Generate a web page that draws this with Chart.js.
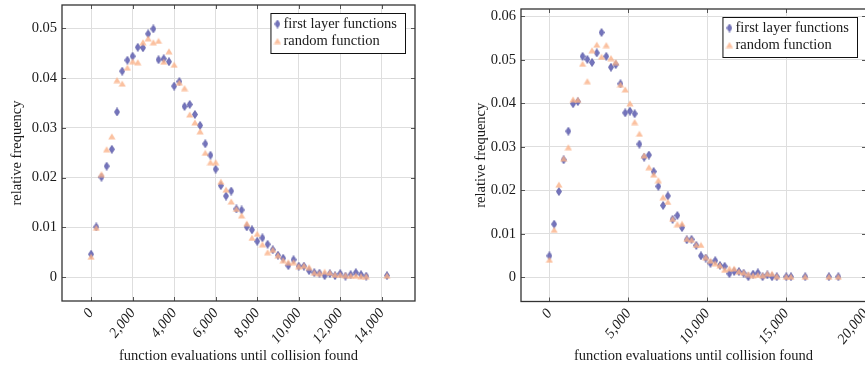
<!DOCTYPE html>
<html>
<head>
<meta charset="utf-8">
<script src="https://cdn.jsdelivr.net/npm/chart.js@4.4.0/dist/chart.umd.min.js"></script>
<style>
  html, body { margin: 0; padding: 0; background: #fff; overflow: hidden; width: 865px; height: 367px; }
  canvas { position: absolute; top: 0; }
</style>
</head>
<body>
<canvas id="left" width="430" height="367" style="left:0px"></canvas>
<canvas id="right" width="412" height="367" style="left:459px"></canvas>
<script>
// left plot: bins of 250 evaluations
const leftBins = [0, 250, 500, 750, 1000, 1250, 1500, 1750, 2000, 2250, 2500, 2750, 3000, 3250, 3500, 3750,
  4000, 4250, 4500, 4750, 5000, 5250, 5500, 5750, 6000, 6250, 6500, 6750, 7000, 7250, 7500, 7750,
  8000, 8250, 8500, 8750, 9000, 9250, 9500, 9750, 10000, 10250, 10500, 10750, 11000, 11250, 11500, 11750,
  12000, 12250, 12500, 12750, 13000, 13250, 14250];
const leftFirstLayer = [0.0046, 0.0101, 0.0201, 0.0223, 0.0257, 0.0332, 0.0414, 0.0436, 0.0444, 0.0462,
  0.0461, 0.0489, 0.0499, 0.0437, 0.0439, 0.0433, 0.0384, 0.0393, 0.0343, 0.0347,
  0.0327, 0.0305, 0.0268, 0.0245, 0.0217, 0.0184, 0.0163, 0.0173, 0.0137, 0.0135,
  0.0101, 0.0095, 0.0072, 0.0079, 0.0066, 0.0055, 0.0044, 0.0038, 0.0023, 0.0035,
  0.0022, 0.0022, 0.0013, 0.0009, 0.0008, 0.0003, 0.0007, 0.0003, 0.0007, 0.0002,
  0.0005, 0.0009, 0.0005, 0.0002, 0.0003];
const leftRandom = [0.0041, 0.0099, 0.0207, 0.0257, 0.0283, 0.0396, 0.0389, 0.0421, 0.0434, 0.0432,
  0.0472, 0.0480, 0.0472, 0.0475, 0.0433, 0.0454, 0.0427, 0.0391, 0.0380, 0.0327,
  0.0311, 0.0293, 0.0250, 0.0231, 0.0231, 0.0192, 0.0176, 0.0152, 0.0137, 0.0124,
  0.0108, 0.0079, 0.0087, 0.0066, 0.0050, 0.0055, 0.0044, 0.0034, 0.0030, 0.0030,
  0.0022, 0.0023, 0.0020, 0.0009, 0.0008, 0.0011, 0.0009, 0.0005, 0.0005, 0.0004,
  0.0003, 0.0003, 0.0002, 0.0002, 0.0003];
const leftXTicks = [0, 2000, 4000, 6000, 8000, 10000, 12000, 14000];
const leftYTicks = [0, 0.01, 0.02, 0.03, 0.04, 0.05];

// right plot: bins of 300 evaluations
const rightBins = [0, 300, 600, 900, 1200, 1500, 1800, 2100, 2400, 2700, 3000, 3300, 3600, 3900, 4200, 4500,
  4800, 5100, 5400, 5700, 6000, 6300, 6600, 6900, 7200, 7500, 7800, 8100, 8400, 8700, 9000, 9300,
  9600, 9900, 10200, 10500, 10800, 11100, 11400, 11700, 12000, 12300, 12600, 12900, 13200, 13500, 13800, 14100,
  14400, 15000, 15300, 16200, 17700, 18300];
const rightFirstLayer = [0.0049, 0.0122, 0.0197, 0.0270, 0.0336, 0.0399, 0.0404, 0.0508, 0.0501, 0.0494,
  0.0516, 0.0563, 0.0508, 0.0483, 0.0489, 0.0445, 0.0378, 0.0382, 0.0376, 0.0306,
  0.0276, 0.0281, 0.0243, 0.0209, 0.0165, 0.0187, 0.0133, 0.0142, 0.0114, 0.0086,
  0.0087, 0.0073, 0.0049, 0.0044, 0.0032, 0.0038, 0.0027, 0.0025, 0.0008, 0.0013,
  0.0013, 0.0009, 0.0001, 0.0007, 0.0010, 0.0001, 0.0005, 0.0001, 0.0001,
  0.0001, 0.0001, 0.0001, 0.0001, 0.0001];
const rightRandom = [0.0040, 0.0109, 0.0213, 0.0273, 0.0299, 0.0409, 0.0408, 0.0491, 0.0451, 0.0522,
  0.0535, 0.0507, 0.0534, 0.0504, 0.0495, 0.0443, 0.0432, 0.0400, 0.0357, 0.0330,
  0.0280, 0.0253, 0.0236, 0.0223, 0.0184, 0.0173, 0.0134, 0.0122, 0.0123, 0.0088,
  0.0086, 0.0074, 0.0074, 0.0046, 0.0038, 0.0032, 0.0027, 0.0017, 0.0020, 0.0020,
  0.0013, 0.0011, 0.0007, 0.0004, 0.0005, 0.0004, 0.0008, 0.0008, 0.0002,
  0.0001, 0.0001, 0.0001, 0.0001, 0.0001];
const rightXTicks = [0, 5000, 10000, 15000, 20000];
const rightYTicks = [0, 0.01, 0.02, 0.03, 0.04, 0.05, 0.06];

const seriesLabels = ['first layer functions', 'random function'];
const xTitle = 'function evaluations until collision found';
const yTitle = 'relative frequency';

const FONT = "'Liberation Serif', 'Times New Roman', serif";
const FONT_SIZE = 14.5;
const INK = '#1a1a1a';

// pgfplots style marks
function markImage(kind) {
  const c = document.createElement('canvas');
  const g = c.getContext('2d');
  if (kind === 'diamond') {
    c.width = 6; c.height = 9;
    g.beginPath();
    g.moveTo(3, 0.5); g.lineTo(5.6, 4.5); g.lineTo(3, 8.5); g.lineTo(0.4, 4.5);
    g.closePath();
    g.fillStyle = 'rgba(104,104,182,0.92)';
    g.fill();
    g.strokeStyle = 'rgba(80,80,158,0.9)';
    g.lineWidth = 0.7;
    g.stroke();
  } else {
    c.width = 8; c.height = 7;
    g.beginPath();
    g.moveTo(4, 0.5); g.lineTo(7.6, 6.6); g.lineTo(0.4, 6.6);
    g.closePath();
    g.fillStyle = 'rgba(250,178,136,0.8)';
    g.fill();
  }
  return c;
}
const diamond = markImage('diamond');
const triangle = markImage('triangle');

// box round the plot area plus inward tick marks on all four sides
const framePlugin = {
  id: 'frame',
  afterDatasetsDraw(chart) {
    const { ctx, chartArea: a, scales: { x, y } } = chart;
    ctx.save();
    ctx.strokeStyle = '#555';
    ctx.lineWidth = 1;
    ctx.beginPath();
    x.ticks.forEach((t) => {
      const px = Math.round(x.getPixelForValue(t.value)) + 0.5;
      ctx.moveTo(px, a.bottom); ctx.lineTo(px, a.bottom - 4);
      ctx.moveTo(px, a.top); ctx.lineTo(px, a.top + 4);
    });
    y.ticks.forEach((t) => {
      const py = Math.round(y.getPixelForValue(t.value)) + 0.5;
      ctx.moveTo(a.left, py); ctx.lineTo(a.left + 4, py);
      ctx.moveTo(a.right, py); ctx.lineTo(a.right - 4, py);
    });
    ctx.stroke();
    ctx.strokeStyle = '#333';
    ctx.lineWidth = 1.3;
    ctx.strokeRect(a.left, a.top, a.right - a.left, a.bottom - a.top);
    ctx.restore();
  },
};

// legend box drawn inside the plot, top right
const boxLegendPlugin = {
  id: 'boxLegend',
  afterDraw(chart, args, opts) {
    const { ctx, chartArea: a } = chart;
    ctx.save();
    ctx.font = `${FONT_SIZE}px ${FONT}`;
    const textW = Math.max(...seriesLabels.map((s) => ctx.measureText(s).width));
    const w = textW + 21;
    const h = 40;
    const x0 = a.right - opts.right - w;
    const y0 = a.top + opts.top;
    ctx.fillStyle = '#fff';
    ctx.fillRect(x0, y0, w, h);
    ctx.strokeStyle = '#111';
    ctx.lineWidth = 1;
    ctx.strokeRect(x0 + 0.5, y0 + 0.5, w, h);
    const marks = [diamond, triangle];
    seriesLabels.forEach((label, i) => {
      const cy = y0 + 11 + i * 17;
      const m = marks[i];
      ctx.drawImage(m, x0 + 7 - m.width / 2, cy - m.height / 2);
      ctx.fillStyle = INK;
      ctx.textBaseline = 'middle';
      ctx.fillText(label, x0 + 13, cy);
    });
    ctx.restore();
  },
};

function buildChart(id, bins, firstLayer, random, xTicks, yTicks, ax) {
  const pts = (vals) => vals.map((v, i) => ({ x: bins[i], y: v }));
  return new Chart(document.getElementById(id), {
    type: 'scatter',
    data: {
      datasets: [
        { label: seriesLabels[0], data: pts(firstLayer), pointStyle: diamond, pointRadius: 4, order: 2 },
        { label: seriesLabels[1], data: pts(random), pointStyle: triangle, pointRadius: 4, order: 1 },
      ],
    },
    options: {
      responsive: false,
      animation: false,
      events: [],
      layout: { padding: { top: ax.top, right: ax.right, left: 0, bottom: 0 } },
      plugins: {
        legend: { display: false },
        tooltip: { enabled: false },
        boxLegend: { right: ax.legendRight, top: 8 },
      },
      scales: {
        x: {
          type: 'linear',
          min: ax.xMin,
          max: ax.xMax,
          afterBuildTicks: (s) => { s.ticks = xTicks.map((v) => ({ value: v })); },
          afterFit: (s) => { s.height = 367 - ax.bottom; s.paddingLeft = 0; s.paddingRight = 0; },
          grid: { color: '#dedede', lineWidth: 1, drawTicks: false },
          border: { display: false },
          ticks: {
            autoSkip: false,
            minRotation: 52,
            maxRotation: 52,
            padding: 4,
            color: INK,
            font: { family: FONT, style: 'italic', size: FONT_SIZE },
            callback: (v) => v.toLocaleString('en-US'),
          },
          title: {
            display: true,
            text: xTitle,
            color: INK,
            font: { family: FONT, size: FONT_SIZE },
            padding: { top: 0, bottom: 2 },
          },
        },
        y: {
          min: ax.yMin,
          max: ax.yMax,
          afterBuildTicks: (s) => { s.ticks = yTicks.map((v) => ({ value: v })); },
          afterFit: (s) => { s.width = 62; s.paddingTop = 0; s.paddingBottom = 0; },
          grid: { color: '#dedede', lineWidth: 1, drawTicks: false },
          border: { display: false },
          ticks: {
            padding: 5,
            color: INK,
            font: { family: FONT, size: FONT_SIZE },
            callback: (v) => (v === 0 ? '0' : v.toFixed(2)),
          },
          title: {
            display: true,
            text: yTitle,
            color: INK,
            font: { family: FONT, size: FONT_SIZE },
            padding: { top: ax.yTitlePad, bottom: 0 },
          },
        },
      },
    },
    plugins: [framePlugin, boxLegendPlugin],
  });
}

buildChart('left', leftBins, leftFirstLayer, leftRandom, leftXTicks, leftYTicks, {
  xMin: -1400, xMax: 15600,
  yMin: -0.0048, yMax: 0.0547,
  top: 5, right: 15, bottom: 301, yTitlePad: 8, legendRight: 10,
});

buildChart('right', rightBins, rightFirstLayer, rightRandom, rightXTicks, rightYTicks, {
  xMin: -1800, xMax: 20050,
  yMin: -0.0056, yMax: 0.0617,
  top: 9, right: 2, bottom: 301.5, yTitlePad: 13, legendRight: 9,
});
</script>
</body>
</html>
